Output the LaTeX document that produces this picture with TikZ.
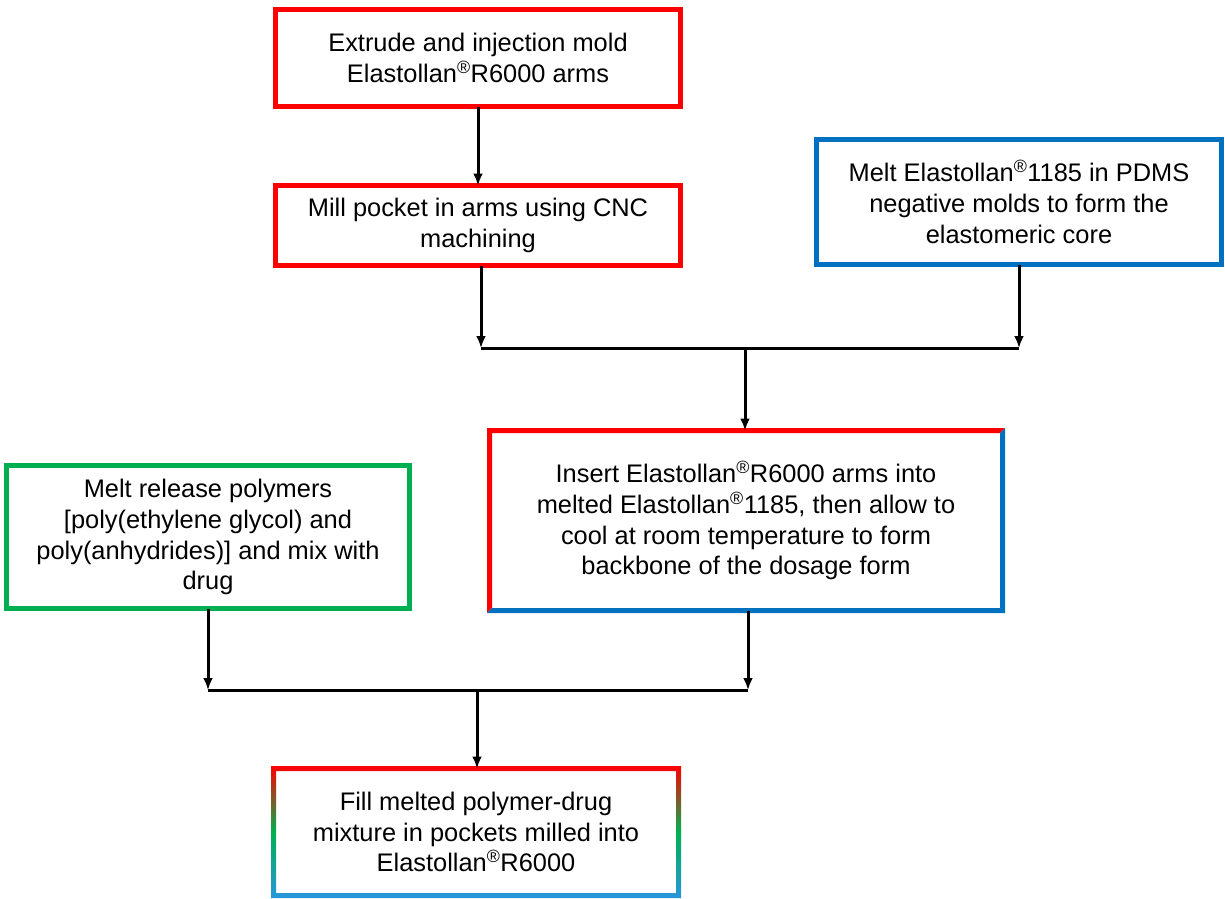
\documentclass[tikz,border=0pt]{standalone}
\usepackage{fontspec}
\setmainfont{Liberation Sans}
\usepackage{tikz}
\usetikzlibrary{arrows.meta,shapes}

\definecolor{boxred}{RGB}{255,0,0}
\definecolor{boxblue}{RGB}{0,112,192}
\definecolor{boxgreen}{RGB}{0,176,80}
\definecolor{boxlblue}{RGB}{40,150,220}
\newcommand{\regmark}{\textsuperscript{\textregistered}}

\begin{document}
\begin{tikzpicture}[x=1bp, y=-1bp, >={Latex[length=12bp, width=10bp]}, line join=miter,
  stepbox/.style={rectangle, line width=5bp, inner sep=0pt, outer sep=0pt,
    align=center, font=\fontsize{25.5}{31}\selectfont, fill=white},
  connector/.style={draw=black, line width=3bp},
]
\useasboundingbox (0,0) rectangle (1225,899);
%%
\node (extrude) at (478,58)
  [stepbox, draw=boxred, minimum width=405bp, minimum height=97bp]
  {Extrude and injection mold\\Elastollan\regmark R6000 arms};
\node (mill) at (478,225.5)
  [stepbox, draw=boxred, minimum width=405bp, minimum height=80bp]
  {Mill pocket in arms using CNC\\machining};
\node (core) at (1019,202)
  [stepbox, draw=boxblue, minimum width=405bp, minimum height=125bp]
  {Melt Elastollan\regmark 1185 in PDMS\\negative molds to form the\\elastomeric core};
\node (insert) at (746,520.5)
  [stepbox, minimum width=513bp, minimum height=180bp]
  {Insert Elastollan\regmark R6000 arms into\\melted Elastollan\regmark 1185, then allow to\\cool at room temperature to form\\backbone of the dosage form};
\node (release) at (208,537)
  [stepbox, draw=boxgreen, minimum width=403bp, minimum height=143bp]
  {Melt release polymers\\{}[poly(ethylene glycol) and\\poly(anhydrides)] and mix with\\drug};
\node (fillstep) at (476,832)
  [stepbox, minimum width=405bp, minimum height=127bp]
  {Fill melted polymer-drug\\mixture in pockets milled into\\Elastollan\regmark R6000};

%% two-colour frame
\fill [boxred]
  ([shift={(-2.5,2.5)}]insert.south west) -- ([shift={(-2.5,-2.5)}]insert.north west)
  -- ([shift={(2.5,-2.5)}]insert.north east) -- ([shift={(-2.5,2.5)}]insert.north east)
  -- ([shift={(2.5,2.5)}]insert.north west) -- ([shift={(2.5,-2.5)}]insert.south west) -- cycle;
\fill [boxblue]
  ([shift={(2.5,-2.5)}]insert.north east) -- ([shift={(2.5,2.5)}]insert.south east)
  -- ([shift={(-2.5,2.5)}]insert.south west) -- ([shift={(2.5,-2.5)}]insert.south west)
  -- ([shift={(-2.5,-2.5)}]insert.south east) -- ([shift={(-2.5,2.5)}]insert.north east) -- cycle;

%% shaded frame
\shade [even odd rule, top color=boxred, bottom color=boxlblue, middle color=boxgreen]
  ([shift={(-2.5,-2.5)}]fillstep.north west) rectangle ([shift={(2.5,2.5)}]fillstep.south east)
  ([shift={(2.5,2.5)}]fillstep.north west) rectangle ([shift={(-2.5,-2.5)}]fillstep.south east);

\coordinate (join_top) at (745,348);
\coordinate (join_low) at (477,690);

\draw [connector,->] (extrude.south) -- (mill.north);

\draw [connector,->] ([xshift=3bp]mill.south) -- ([xshift=3bp]mill.south |- join_top);
\draw [connector,->] (core.south) -- (core.south |- join_top);
\draw [connector] ([xshift=3bp]mill.south |- join_top) -- (core.south |- join_top);
\draw [connector,->] (join_top) -- (join_top |- insert.north);

\draw [connector,->] (release.south) -- (release.south |- join_low);
\draw [connector,->] ([xshift=2bp]insert.south) -- ([xshift=2bp]insert.south |- join_low);
\draw [connector] (release.south |- join_low) -- ([xshift=2bp]insert.south |- join_low);
\draw [connector,->] (join_low) -- (join_low |- fillstep.north);
\end{tikzpicture}
\end{document}
